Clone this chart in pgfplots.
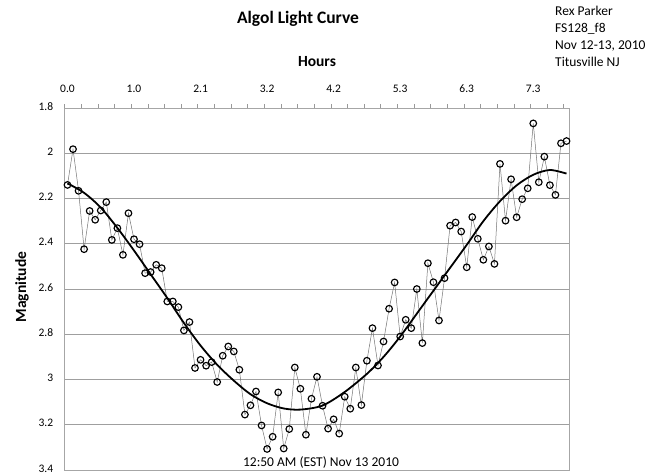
\documentclass[border=0pt]{standalone}
\usepackage{fontspec}
\setmainfont{Carlito}
\usepackage{pgfplots}
\pgfplotsset{compat=1.18}
\usepackage{pgfplotstable}

% observations, one every ~5 minutes (index 0..90)
\pgfplotstableread{
idx mag
0 2.140
1 1.982
2 2.166
3 2.424
4 2.255
5 2.294
6 2.253
7 2.216
8 2.383
9 2.331
10 2.449
11 2.265
12 2.380
13 2.402
14 2.530
15 2.525
16 2.493
17 2.508
18 2.655
19 2.655
20 2.680
21 2.783
22 2.746
23 2.949
24 2.913
25 2.939
26 2.923
27 3.011
28 2.895
29 2.854
30 2.876
31 2.957
32 3.155
33 3.114
34 3.053
35 3.203
36 3.307
37 3.253
38 3.057
39 3.305
40 3.219
41 2.947
42 3.041
43 3.244
44 3.085
45 2.988
46 3.116
47 3.217
48 3.176
49 3.239
50 3.076
51 3.129
52 2.947
53 3.113
54 2.917
55 2.773
56 2.938
57 2.832
58 2.687
59 2.571
60 2.810
61 2.736
62 2.773
63 2.600
64 2.839
65 2.486
66 2.570
67 2.739
68 2.552
69 2.320
70 2.306
71 2.346
72 2.504
73 2.282
74 2.378
75 2.471
76 2.412
77 2.489
78 2.047
79 2.298
80 2.115
81 2.283
82 2.203
83 2.155
84 1.868
85 2.128
86 2.015
87 2.141
88 2.184
89 1.956
90 1.946
}\obs

% trend line
\pgfplotstableread{
idx fit
0 2.133
3 2.175
6 2.240
9 2.330
12 2.430
15 2.535
18 2.640
21 2.750
24 2.850
27 2.935
30 3.005
33 3.065
36 3.105
39 3.128
42 3.133
46 3.115
50 3.055
54 2.975
57 2.900
60 2.810
64 2.675
68 2.540
72 2.405
75 2.300
78 2.212
81 2.142
84 2.095
87 2.074
90 2.090
}\fit

\begin{document}
\begin{tikzpicture}[x=1pt,y=1pt]
\useasboundingbox (0,0) rectangle (653,475);
\begin{axis}[
    at={(64.7pt,5pt)}, anchor=south west,
    scale only axis,
    width=504.6pt, height=362pt,
    xmin=-0.5, xmax=90.5,
    ymin=1.8, ymax=3.4,
    y dir=reverse,
    ytick={1.8,2.0,2.2,2.4,2.6,2.8,3.0,3.2,3.4},
    yticklabels={1.8,2,2.2,2.4,2.6,2.8,3,3.2,3.4},
    xtick={0,12,24,36,48,60,72,84},
    xticklabels={0.0,1.0,2.1,3.2,4.2,5.3,6.3,7.3},
    minor xtick={-0.5,2.5,...,89.5},
    major tick length=0pt,
    minor tick length=4pt,
    tick align=outside,
    xtick pos=right, xticklabel pos=right, ytick pos=left,
    ymajorgrids=true,
    grid style={gray!75, line width=0.6pt},
    axis line style={gray!70, line width=0.6pt},
    minor tick style={gray!80, line width=0.6pt},
    ticklabel style={font=\fontsize{11.5}{13}\selectfont},
    xticklabel style={yshift=12pt},
    yticklabel style={xshift=-8pt, yshift=1.5pt},
    /pgf/number format/assume math mode=true,
]
\addplot[black!55, line width=0.5pt, mark=o, mark size=3.3pt,
    mark options={black, line width=1.15pt, fill=white, solid}]
    table[x=idx, y=mag] {\obs};
\addplot[black, line width=1.8pt, smooth, no marks]
    table[x=idx, y=fit] {\fit};
\end{axis}
\node[font=\fontsize{17.5}{20}\selectfont\bfseries] at (298,456) {Algol Light Curve};
\node[font=\fontsize{15.5}{18}\selectfont\bfseries] at (317,413) {Hours};
\node[rotate=90, font=\fontsize{15.5}{18}\selectfont\bfseries] at (22,188) {Magnitude};
\node[anchor=north west, align=left, inner sep=0pt,
    font=\fontsize{13.5}{17}\selectfont] at (555,469)
    {Rex Parker\\FS128\_f8\\Nov 12-13, 2010\\Titusville NJ};
\node[font=\fontsize{13.5}{16}\selectfont] at (321,13) {12:50 AM (EST) Nov 13 2010};
\end{tikzpicture}
\end{document}
